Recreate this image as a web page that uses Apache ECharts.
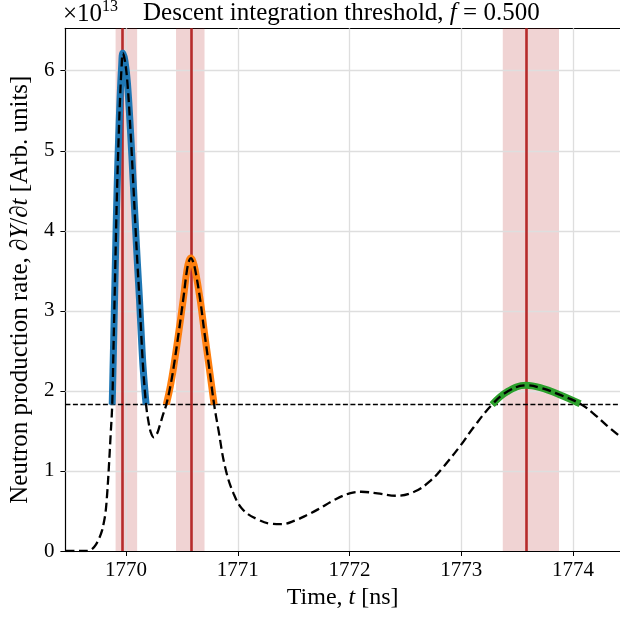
<!DOCTYPE html>
<html>
<head>
<meta charset="utf-8">
<script src="https://cdn.jsdelivr.net/npm/echarts@6/dist/echarts.min.js"></script>
<style>html,body{margin:0;padding:0;background:#fff}#c{width:620px;height:621px}</style>
</head>
<body>
<div id="c"></div>
<script>
// ---- data (values in units of 1e13) ----
const times = [1769.457,1769.55,1769.62,1769.667,1769.70,1769.73,1769.76,1769.786,1769.80,1769.816,1769.831,1769.846,1769.861,1769.876,1769.886,1769.897,1769.908,1769.919,1769.932,1769.946,1769.960,1769.971,1769.990,1770.012,1770.039,1770.063,1770.084,1770.102,1770.120,1770.136,1770.152,1770.179,1770.20,1770.222,1770.248,1770.275,1770.30,1770.33,1770.36,1770.395,1770.426,1770.47,1770.515,1770.545,1770.565,1770.58,1770.598,1770.619,1770.663,1770.702,1770.743,1770.788,1770.827,1770.886,1770.961,1771.05,1771.184,1771.30,1771.39,1771.51,1771.62,1771.717,1771.866,1772.0,1772.104,1772.25,1772.416,1772.578,1772.726,1772.845,1772.994,1773.112,1773.276,1773.41,1773.579,1773.706,1773.885,1774.063,1774.18,1774.30,1774.42];
const values = [0,0,0,0.005,0.03,0.08,0.16,0.26,0.35,0.48,0.72,1.05,1.43,1.83,2.45,3.14,3.85,4.5,5.1,5.65,6.05,6.22,6.12,5.85,5.26,4.63,4.05,3.58,3.14,2.70,2.30,1.83,1.62,1.48,1.42,1.46,1.56,1.70,1.83,2.05,2.30,2.72,3.18,3.51,3.63,3.66,3.62,3.51,3.14,2.72,2.30,1.83,1.51,1.05,0.72,0.51,0.39,0.34,0.335,0.38,0.45,0.52,0.64,0.72,0.74,0.72,0.69,0.74,0.88,1.06,1.32,1.55,1.83,1.99,2.07,2.04,1.95,1.84,1.72,1.57,1.43];
const pulseStarts = [1769.876, 1770.36, 1773.276];
const pulseEnds   = [1770.179, 1770.788, 1774.063];
const pulseColors = ['#1f77b4', '#ff7f0e', '#2ca02c'];
const peakTimes   = [1769.971, 1770.58, 1773.579];
const bandStarts  = [1769.906, 1770.447, 1773.371];
const bandEnds    = [1770.099, 1770.702, 1773.874];
const threshold   = 1.833;
const xTicks = [1770, 1771, 1772, 1773, 1774];
const yTicks = [0, 1, 2, 3, 4, 5, 6];
const xMin = 1769.457, xMax = 1774.42, yMin = 0, yMax = 6.53;

// ---- build ----
const FONT = 'Liberation Serif';
const TXT = 24;
const curve = times.map((t, i) => [t, values[i]]);
const segs = pulseStarts.map((s, k) => curve.filter(p => p[0] >= s && p[0] <= pulseEnds[k]));

const series = [];
series.push({
  type: 'line', data: [], z: 1, silent: true,
  markArea: { silent: true, itemStyle: { color: 'rgba(178,34,34,0.2)' },
    data: bandStarts.map((s, k) => [{ xAxis: s }, { xAxis: bandEnds[k] }]) }
});
series.push({
  type: 'line', data: [], z: 2, silent: true,
  markLine: { silent: true, symbol: 'none', label: { show: false }, animation: false,
    lineStyle: { color: '#dedede', width: 1.3, type: 'solid' },
    data: xTicks.map(v => ({ xAxis: v })).concat(yTicks.slice(1).map(v => ({ yAxis: v }))) }
});
segs.forEach((d, k) => series.push({
  type: 'line', data: d, z: 10, showSymbol: false, smooth: 0.4,
  lineStyle: { color: pulseColors[k], width: 7, cap: 'butt' }, silent: true
}));
series.push({
  type: 'line', data: [], z: 11, silent: true,
  markLine: { silent: true, symbol: 'none', label: { show: false }, animation: false,
    lineStyle: { color: '#b22222', width: 2.6, type: 'solid', opacity: 0.95 },
    data: peakTimes.map(v => ({ xAxis: v })) }
});
series.push({
  type: 'line', data: [], z: 12, silent: true,
  markLine: { silent: true, symbol: 'none', label: { show: false }, animation: false,
    lineStyle: { color: '#000', width: 1.3, type: [5, 2.5] },
    data: [{ yAxis: threshold }] }
});
series.push({
  type: 'line', data: curve, z: 13, showSymbol: false, smooth: 0.4,
  lineStyle: { color: '#000', width: 2.3, type: [9, 4.5] }, silent: true
});

const chart = echarts.init(document.getElementById('c'), null, { renderer: 'canvas' });
chart.setOption({
  animation: false,
  backgroundColor: '#fff',
  grid: { left: 63.3, right: 0, top: 28.3, bottom: 70, containLabel: false },
  xAxis: [{
    type: 'value', min: xMin, max: xMax, position: 'bottom',
    axisLine: { show: true, onZero: false, lineStyle: { color: '#000', width: 1.2 } },
    axisTick: { show: true, length: 5, customValues: xTicks, lineStyle: { color: '#000', width: 1 } },
    axisLabel: { customValues: xTicks, margin: 9, color: '#000', fontFamily: FONT, fontSize: 21, formatter: v => String(v) },
    splitLine: { show: false },
    name: 'Time, {i|t} [ns]', nameLocation: 'middle', nameGap: 35,
    nameTextStyle: { color: '#000', fontFamily: FONT, fontSize: TXT,
      rich: { i: { fontStyle: 'italic', fontFamily: FONT, fontSize: TXT, color: '#000' } } }
  }, {
    type: 'value', min: xMin, max: xMax, position: 'top',
    axisLine: { show: true, onZero: false, lineStyle: { color: '#000', width: 1.2 } },
    axisTick: { show: false }, axisLabel: { show: false }, splitLine: { show: false }
  }],
  yAxis: {
    type: 'value', min: yMin, max: yMax,
    axisLine: { show: true, onZero: false, lineStyle: { color: '#000', width: 1.2 } },
    axisTick: { show: true, length: 5, customValues: yTicks, lineStyle: { color: '#000', width: 1 } },
    axisLabel: { customValues: yTicks, margin: 11, color: '#000', fontFamily: FONT, fontSize: 21 },
    splitLine: { show: false },
    name: '{r|Neutron production rate, ∂}{i|Y}{r|/∂}{i|t}{r| [Arb. units]}',
    nameLocation: 'middle', nameGap: 29, nameRotate: 90,
    nameTextStyle: { color: '#000', fontFamily: FONT, fontSize: 25,
      rich: { r: { fontFamily: FONT, fontSize: 25, color: '#000' },
              i: { fontStyle: 'italic', fontFamily: FONT, fontSize: 25, color: '#000' } } }
  },
  graphic: [{
    type: 'text', left: 63, top: -1,
    style: { text: '{a|×10}{s|13}', rich: {
      a: { fontFamily: FONT, fontSize: 25, fill: '#000', lineHeight: 28, verticalAlign: 'bottom' },
      s: { fontFamily: FONT, fontSize: 16, fill: '#000', lineHeight: 28, verticalAlign: 'top' } } }
  }, {
    type: 'text', left: 143, top: -1,
    style: { text: 'Descent integration threshold, {i|f} = 0.500', fontFamily: FONT, fontSize: TXT + 1, fill: '#000', lineHeight: 28,
      rich: { i: { fontFamily: FONT, fontSize: TXT + 1, fontStyle: 'italic', fill: '#000', lineHeight: 28 } } }
  }],
  series: series
});
</script>
</body>
</html>
